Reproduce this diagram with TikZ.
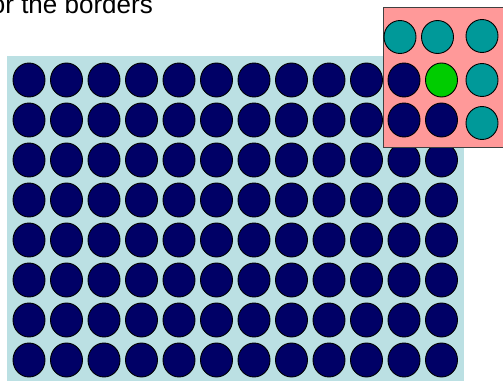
\documentclass[tikz,border=0pt]{standalone}
\usepackage{fontspec}
\setmainfont{Liberation Sans}
\definecolor{navy}{HTML}{000066}
\definecolor{tealc}{HTML}{009999}
\definecolor{greenc}{HTML}{00CC00}
\definecolor{pinkc}{HTML}{FF9999}
\definecolor{lblue}{HTML}{BBE0E3}
\definecolor{boxline}{HTML}{404040}
\tikzset{
  dot/.style={draw=black, line width=0.9pt},
}
\begin{document}
\begin{tikzpicture}[x=1pt,y=-1pt]
\useasboundingbox (0,0) rectangle (503,380);
\node[anchor=base east, inner sep=0pt, font=\fontsize{26}{30}\selectfont] (title) at (153,13) {or the borders};
\fill[lblue] (7,56) rectangle (464,385);
\foreach \r in {0,...,7}{
  \foreach \c in {0,...,11}{
    \pgfmathtruncatemacro{\skip}{(\r<2)&&(\c>9)?1:0}
    \ifnum\skip=0
      \path[dot, fill=navy] (29+37.5*\c, 80+40*\r) ellipse [x radius=16, y radius=17];
    \fi
  }
}
\draw[fill=pinkc, draw=boxline, line width=0.9pt] (383,7) rectangle (510,147);
\path[dot, fill=navy] (404,80) ellipse [x radius=16, y radius=17];
\path[dot, fill=greenc] (441.5,80) ellipse [x radius=16, y radius=17];
\path[dot, fill=navy] (404,120) ellipse [x radius=16, y radius=17];
\path[dot, fill=navy] (441.5,120) ellipse [x radius=16, y radius=17];
\path[dot, fill=tealc] (400,37) ellipse [x radius=16, y radius=16.5];
\path[dot, fill=tealc] (437.5,37) ellipse [x radius=16, y radius=16.5];
\path[dot, fill=tealc] (482,36) ellipse [x radius=16, y radius=16.5];
\path[dot, fill=tealc] (482,80) ellipse [x radius=16, y radius=16.5];
\path[dot, fill=tealc] (482,123) ellipse [x radius=16, y radius=16.5];
\end{tikzpicture}
\end{document}
